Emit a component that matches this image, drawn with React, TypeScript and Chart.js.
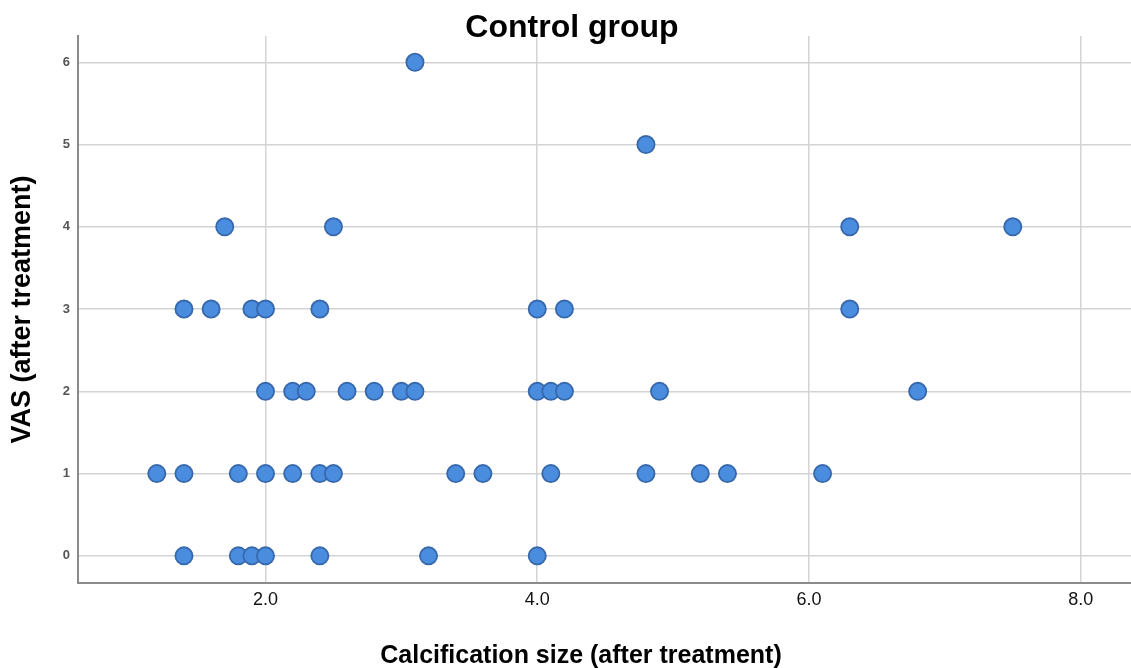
import React, { useEffect, useRef } from "react";
import { Chart, registerables } from "chart.js";

Chart.register(...registerables);

const chartTitle = "Control group";
const xAxisTitle = "Calcification size (after treatment)";
const yAxisTitle = "VAS (after treatment)";

const xTickValues = [2, 4, 6, 8];
const yTickValues = [0, 1, 2, 3, 4, 5, 6];

// Calcification size per VAS level
const sizesVas6 = [3.1];
const sizesVas5 = [4.8];
const sizesVas4 = [1.7, 2.5, 6.3, 7.5];
const sizesVas3 = [1.4, 1.6, 1.9, 2.0, 2.4, 4.0, 4.2, 6.3];
const sizesVas2 = [2.0, 2.2, 2.3, 2.6, 2.8, 3.0, 3.1, 4.0, 4.1, 4.2, 4.9, 6.8];
const sizesVas1 = [1.2, 1.4, 1.8, 2.0, 2.2, 2.4, 2.5, 3.4, 3.6, 4.1, 4.8, 5.2, 5.4, 6.1];
const sizesVas0 = [1.4, 1.8, 1.9, 2.0, 2.4, 3.2, 4.0];

const groups: [number, number[]][] = [
  [6, sizesVas6],
  [5, sizesVas5],
  [4, sizesVas4],
  [3, sizesVas3],
  [2, sizesVas2],
  [1, sizesVas1],
  [0, sizesVas0],
];

const FONT = "'Liberation Sans', Arial, sans-serif";

const textPlugin = {
  id: "customTexts",
  afterDraw(chart: any) {
    const ctx = chart.ctx;
    ctx.save();
    ctx.fillStyle = "#000";
    ctx.textAlign = "center";
    ctx.textBaseline = "alphabetic";
    ctx.font = `bold 32px ${FONT}`;
    ctx.fillText(chartTitle, 572, 37);
    ctx.font = `bold 25px ${FONT}`;
    ctx.fillText(xAxisTitle, 581, 663);
    ctx.restore();
  },
};

export default function App() {
  const canvasRef = useRef<HTMLCanvasElement | null>(null);

  useEffect(() => {
    if (!canvasRef.current) return;
    const points: { x: number; y: number }[] = [];
    groups.forEach(([vas, sizes]) => {
      sizes.forEach((s) => points.push({ x: s, y: vas }));
    });
    const chart = new Chart(canvasRef.current, {
      type: "scatter",
      data: {
        datasets: [
          {
            data: points,
            backgroundColor: "#4a8ddf",
            borderColor: "#3768ab",
            borderWidth: 1.8,
            pointRadius: 8.6,
            pointHoverRadius: 8.6,
          },
        ],
      },
      options: {
        animation: false,
        responsive: false,
        maintainAspectRatio: false,
        layout: { autoPadding: false, padding: { top: 36, right: 0, left: 0, bottom: 0 } },
        plugins: {
          legend: { display: false },
          tooltip: { enabled: false },
          title: { display: false },
        },
        scales: {
          x: {
            type: "linear",
            min: 0.62,
            max: 8.37,
            afterFit: (scale: any) => {
              scale.height = 85;
              scale.paddingLeft = 0;
              scale.paddingRight = 0;
            },
            afterBuildTicks: (scale: any) => {
              scale.ticks = xTickValues.map((v) => ({ value: v }));
            },
            ticks: {
              color: "#111",
              font: { family: FONT, size: 18 },
              padding: 6,
              callback: (v: any) => Number(v).toFixed(1),
            },
            grid: {
              color: "#d3d3d3",
              lineWidth: 1.5,
              drawTicks: false,
            },
            border: { color: "#8a8a8a", width: 2 },
            title: { display: false },
          },
          y: {
            type: "linear",
            min: -0.33,
            max: 6.32,
            afterFit: (scale: any) => {
              scale.width = 78;
              scale.paddingTop = 0;
              scale.paddingBottom = 0;
            },
            afterBuildTicks: (scale: any) => {
              scale.ticks = yTickValues.map((v) => ({ value: v }));
            },
            ticks: {
              color: "#555",
              font: { family: FONT, size: 13, weight: "bold" },
              padding: 8,
            },
            grid: {
              color: "#d3d3d3",
              lineWidth: 1.5,
              drawTicks: false,
            },
            border: { color: "#8a8a8a", width: 2 },
            title: {
              display: true,
              text: yAxisTitle,
              color: "#000",
              font: { family: FONT, size: 27, weight: "bold" },
              padding: { top: 6, bottom: 0 },
            },
          },
        },
      },
      plugins: [textPlugin],
    });
    return () => chart.destroy();
  }, []);

  return (
    <div style={{ position: "absolute", left: 0, top: 0, width: 1131, height: 668, background: "#fff" }}>
      <canvas ref={canvasRef} width={1131} height={668} style={{ display: "block" }} />
    </div>
  );
}
